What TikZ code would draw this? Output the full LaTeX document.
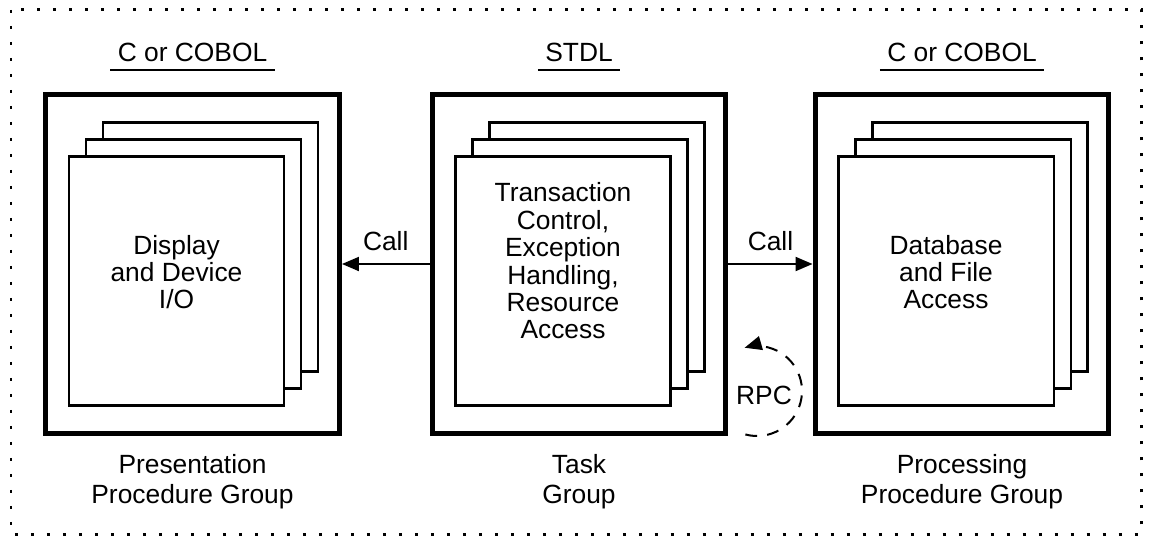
\documentclass[tikz,border=0pt]{standalone}
\usepackage{fontspec}
\setmainfont{Liberation Sans}
\usetikzlibrary{arrows.meta,positioning}

\begin{document}
\begin{tikzpicture}[
        x=0.02cm, y=-0.02cm,
        >={Triangle[length=0.34cm,width=0.28cm]},
        every node/.style={font=\fontsize{15}{15.6}\selectfont, align=center},
        group/.style={draw, line width=0.1cm, minimum width=5.88cm, minimum height=6.78cm},
        page/.style={draw, fill=white, line width=0.05cm, minimum width=4.31cm, minimum height=4.99cm},
        lang/.style={inner xsep=0.14cm, inner ysep=0.16cm},
        groupname/.style={font=\fontsize{15}{17}\selectfont},
        call/.style={->, line width=0.04cm},
        rpcline/.style={->, line width=0.04cm, dash pattern=on 0.24cm off 0.2cm},
        frame/.style={line width=0.06cm, dash pattern=on 0.06cm off 0.26cm}
        ]
        \useasboundingbox (0,0) rectangle (1151,544);
        \draw[frame] (11,10) rectangle (1141,534);

        % Groups
        \node[group] (pres) at (192.5,264) {};
        \node[group] (task) at (579,264) {};
        \node[group] (proc) at (962,264) {};

        % Stacked pages
        \foreach \g in {pres,task,proc}{
          \node[page] (\g-back)  at ([shift={(0.36cm,0.34cm)}]\g.center)   {};
          \node[page] (\g-mid)   at ([shift={(0.02cm,0cm)}]\g.center)      {};
          \node[page] (\g-front) at ([shift={(-0.32cm,-0.34cm)}]\g.center) {};
        }

        % Page texts
        \node (display) at ([yshift=0.18cm]pres-front.center) {Display\\and Device\\I/O};
        \node (control) at ([yshift=0.4cm]task-front.center)  {Transaction\\Control,\\Exception\\Handling,\\Resource\\Access};
        \node (dbfile)  at ([yshift=0.18cm]proc-front.center) {Database\\and File\\Access};

        % Languages
        \node[lang, above=0.44cm of pres] (lang-pres) {C or COBOL};
        \node[lang, above=0.44cm of task] (lang-task) {STDL};
        \node[lang, above=0.44cm of proc] (lang-proc) {C or COBOL};
        \draw[line width=0.03cm] (lang-pres.south west) -- (lang-pres.south east);
        \draw[line width=0.03cm] (lang-task.south west) -- (lang-task.south east);
        \draw[line width=0.03cm] (lang-proc.south west) -- (lang-proc.south east);

        % Group names
        \node[groupname, below=0.24cm of pres] (name-pres) {Presentation\\Procedure Group};
        \node[groupname, below=0.24cm of task] (name-task) {Task\\Group};
        \node[groupname, below=0.24cm of proc] (name-proc) {Processing\\Procedure Group};

        % Calls
        \draw[call] (task.west) -- node[above=0.12cm] (call-pres) {Call} (pres.east);
        \draw[call] (task.east) -- node[above=0.12cm] (call-proc) {Call} (proc.west);

        % RPC
        \coordinate (rpc-c) at (757,391);
        \node (rpc) at (764,395) {RPC};
        \draw[rpcline] ([shift={(-105:0.9cm)}]rpc-c) arc[start angle=-105, end angle=106, radius=0.9cm];
\end{tikzpicture}
\end{document}
